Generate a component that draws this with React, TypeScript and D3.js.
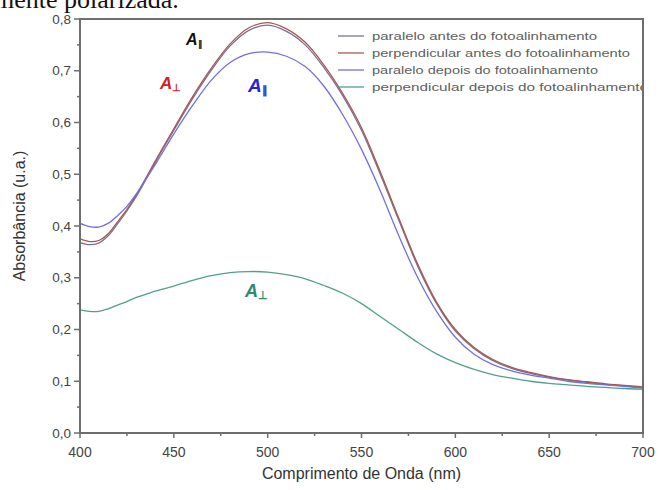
import React from "react";
import * as d3 from "d3";

const wavelengths = [400, 405, 410, 415, 420, 425, 430, 435, 440, 450, 460, 470, 480, 490, 500, 510, 520, 530, 540, 550, 560, 570, 580, 590, 600, 610, 620, 630, 640, 650, 660, 670, 680, 690, 700];

const paraleloAntes = [0.368, 0.364, 0.367, 0.381, 0.404, 0.429, 0.457, 0.489, 0.522, 0.585, 0.646, 0.701, 0.748, 0.778, 0.788, 0.776, 0.75, 0.706, 0.652, 0.585, 0.5, 0.41, 0.322, 0.25, 0.197, 0.163, 0.14, 0.125, 0.115, 0.108, 0.102, 0.098, 0.094, 0.091, 0.088];
const perpendicularAntes = [0.375, 0.37, 0.372, 0.385, 0.408, 0.432, 0.46, 0.492, 0.525, 0.588, 0.65, 0.705, 0.752, 0.783, 0.793, 0.781, 0.755, 0.711, 0.656, 0.59, 0.505, 0.414, 0.326, 0.253, 0.2, 0.165, 0.142, 0.127, 0.117, 0.109, 0.103, 0.099, 0.095, 0.092, 0.089];
const paraleloDepois = [0.405, 0.399, 0.398, 0.405, 0.42, 0.438, 0.462, 0.49, 0.518, 0.578, 0.633, 0.682, 0.716, 0.733, 0.736, 0.728, 0.708, 0.67, 0.615, 0.548, 0.468, 0.38, 0.3, 0.235, 0.185, 0.152, 0.132, 0.12, 0.112, 0.106, 0.1, 0.096, 0.093, 0.09, 0.087];
const perpendicularDepois = [0.238, 0.235, 0.235, 0.24, 0.247, 0.254, 0.262, 0.268, 0.274, 0.284, 0.295, 0.304, 0.31, 0.312, 0.311, 0.306, 0.298, 0.285, 0.27, 0.25, 0.225, 0.2, 0.175, 0.153, 0.136, 0.123, 0.113, 0.106, 0.1, 0.096, 0.093, 0.09, 0.088, 0.086, 0.085];

const seriesNames = [
  "paralelo antes do fotoalinhamento",
  "perpendicular antes do fotoalinhamento",
  "paralelo depois do fotoalinhamento",
  "perpendicular depois do fotoalinhamento",
];
const seriesValues = [paraleloAntes, perpendicularAntes, paraleloDepois, perpendicularDepois];
const seriesColors = ["#7d6f92", "#a45a52", "#7070e0", "#52a08c"];

const xTicks = [400, 450, 500, 550, 600, 650, 700];
const yTicks = [0, 0.1, 0.2, 0.3, 0.4, 0.5, 0.6, 0.7, 0.8];

export default function App() {
  const left = 80, right = 643, top = 19, bottom = 433;
  const x = d3.scaleLinear().domain([400, 700]).range([left, right]);
  const y = d3.scaleLinear().domain([0, 0.8]).range([bottom, top]);
  const line = d3
    .line<number>()
    .x((_, i) => x(wavelengths[i]))
    .y((d) => y(d))
    .curve(d3.curveCatmullRom);

  const minorX = d3.range(400, 701, 25);
  const minorY = d3.range(0, 0.801, 0.05);
  const fmt = (v: number) => v.toFixed(1).replace(".", ",");
  const axisColor = "#6e6e6e";
  const legendX = 338;
  const legendY0 = 36;
  const legendDy = 17;
  const legendWidths = [225, 258, 226, 276];

  return (
    <svg width={659} height={490} style={{ position: "absolute", left: 0, top: 0, background: "#fff" }} fontFamily="Liberation Sans, Arial, sans-serif">
      <defs>
        <clipPath id="legclip">
          <rect x={0} y={0} width={right - 1} height={490} />
        </clipPath>
      </defs>
      <text x={-6} y={8} fontFamily="Liberation Serif, Times New Roman, serif" fontSize={26} fill="#111">mente polarizada.</text>
      {seriesValues.map((vals, k) => (
        <path key={k} d={line(vals) || ""} fill="none" stroke={seriesColors[k]} strokeWidth={1.3} />
      ))}
      {/* legend */}
      <g clipPath="url(#legclip)">
        {seriesNames.map((name, k) => (
          <g key={"lg" + k}>
            <line x1={legendX} x2={legendX + 26} y1={legendY0 + k * legendDy} y2={legendY0 + k * legendDy} stroke={seriesColors[k]} strokeWidth={1.3} />
            <text x={legendX + 34} y={legendY0 + k * legendDy + 4} fontSize={11} fill="#606060" textLength={legendWidths[k]} lengthAdjust="spacingAndGlyphs">{name}</text>
          </g>
        ))}
      </g>
      {/* frame */}
      <rect x={left} y={top} width={right - left} height={bottom - top} fill="none" stroke={axisColor} strokeWidth={2} />
      {/* ticks */}
      {minorX.map((v) => (
        <line key={"mx" + v} x1={x(v)} x2={x(v)} y1={bottom} y2={bottom + (v % 50 === 0 ? 5 : 3)} stroke={axisColor} strokeWidth={1.5} />
      ))}
      {minorY.map((v, i) => (
        <line key={"my" + i} x1={left} x2={left - (i % 2 === 0 ? 6 : 3)} y1={y(v)} y2={y(v)} stroke={axisColor} strokeWidth={1.5} />
      ))}
      {xTicks.map((v) => (
        <text key={"xt" + v} x={x(v)} y={457} textAnchor="middle" fontSize={14} fill="#444">{v}</text>
      ))}
      {yTicks.map((v) => (
        <text key={"yt" + v} x={71} y={y(v) + 4.5} textAnchor="end" fontSize={13.5} fill="#444">{fmt(v)}</text>
      ))}
      <text x={(left + right) / 2} y={479} textAnchor="middle" fontSize={16} fill="#333">Comprimento de Onda (nm)</text>
      <text transform={`translate(25, 216) rotate(-90)`} textAnchor="middle" fontSize={16} fill="#333">Absorbância (u.a.)</text>
      {/* annotations */}
      <text x={186} y={45} fontSize={16} fontWeight="bold" fontStyle="italic" fill="#111">A<tspan fontSize={9} dy={2} fontStyle="normal">∥</tspan></text>
      <text x={160} y={89} fontSize={17} fontWeight="bold" fontStyle="italic" fill="#d0202a">A<tspan fontSize={10} dy={2} fontStyle="normal">⊥</tspan></text>
      <text x={248} y={92} fontSize={19} fontWeight="bold" fontStyle="italic" fill="#2525d8">A<tspan fontSize={11} dy={2} fontStyle="normal">∥</tspan></text>
      <text x={245} y={297} fontSize={18} fontWeight="bold" fontStyle="italic" fill="#2f8a70">A<tspan fontSize={11} dy={2} fontStyle="normal">⊥</tspan></text>
    </svg>
  );
}
